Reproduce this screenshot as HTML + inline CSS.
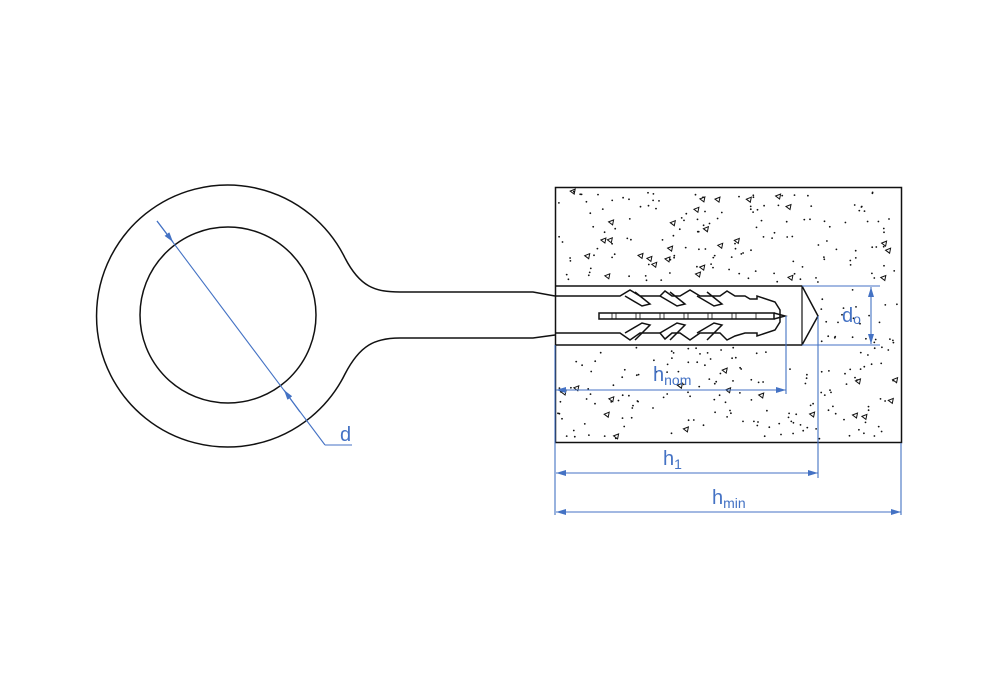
<!DOCTYPE html>
<html><head><meta charset="utf-8"><style>body{margin:0;background:#fff}svg{display:block}</style></head>
<body>
<svg id="s" width="1000" height="700" viewBox="0 0 1000 700" xmlns="http://www.w3.org/2000/svg" font-family="Liberation Sans, sans-serif">
<defs>
<marker id="a" viewBox="0 0 10 6" refX="10" refY="3" markerWidth="10" markerHeight="6" orient="auto-start-reverse" markerUnits="userSpaceOnUse"><path d="M0,0 L10,3 L0,6z" fill="#4472c4"/></marker>
</defs>
<g id="dots"></g>
<!-- concrete block -->
<rect x="557" y="287" width="245" height="58" fill="#fff"/>
<rect x="555.5" y="187.5" width="346" height="255" fill="none" stroke="#111" stroke-width="1.5"/>
<path d="M555,286 L802,286 L818,316 L802,345 L555,345" fill="none" stroke="#111" stroke-width="1.5"/>
<line x1="802" y1="286" x2="802" y2="345" stroke="#111" stroke-width="1.2"/>
<!-- ring -->
<path d="M345,258 A131,131 0 1 0 345,374 C360,345 375,338 400,338 L533,338 L555,335" fill="none" stroke="#111" stroke-width="1.5"/>
<path d="M345,258 C360,287 375,292 400,292 L533,292 L555,296" fill="none" stroke="#111" stroke-width="1.5"/>
<circle cx="228" cy="315" r="88" fill="none" stroke="#111" stroke-width="1.5"/>
<!-- plug -->
<g fill="none" stroke="#111" stroke-width="1.5">
<path d="M555,296 L620,296 L630,290 L640,296 L660,296 L665,291 L672,296 L680,296 L690,290 L700,296 L720,296 L727,291 L735,296 L745,296 L750,299 L757,299 L757,296 L775,302 L780,310 L780,322 L775,330 L757,336 L757,333 L745,333 L735,336 L727,340 L720,333 L700,333 L690,340 L680,333 L672,333 L665,339 L660,333 L640,333 L630,340 L620,333 L555,333"/>
<path d="M625,296 L642,306 L650,304 L635,292"/><path d="M660,296 L677,306 L685,304 L670,292"/><path d="M697,296 L714,306 L722,304 L707,292"/>
<path d="M625,333 L642,323 L650,325 L635,340"/><path d="M660,333 L677,323 L685,325 L670,340"/><path d="M697,333 L714,323 L722,325 L707,340"/>
<rect x="599" y="313" width="175" height="6"/>
<path d="M774,313 L785,316 L774,319"/>
</g>
<g stroke="#111" stroke-width="0.8">
<path d="M612,313v6M616,313v6M636,313v6M640,313v6M660,313v6M664,313v6M684,313v6M688,313v6M708,313v6M712,313v6M732,313v6M736,313v6M756,313v6"/>
</g>
<!-- dimensions -->
<g stroke="#4472c4" stroke-width="1.1" fill="none">
<line x1="157" y1="221" x2="325" y2="445"/><line x1="325" y1="445" x2="352" y2="445"/>
<line x1="157" y1="221" x2="173" y2="242" marker-end="url(#a)"/>
<line x1="300" y1="412" x2="284" y2="390" marker-end="url(#a)"/>
<line x1="555" y1="345" x2="555" y2="515"/>
<line x1="901" y1="443" x2="901" y2="515"/>
<line x1="786" y1="316" x2="786" y2="394"/>
<line x1="818" y1="316" x2="818" y2="478"/>
<line x1="556" y1="390" x2="786" y2="390" marker-start="url(#a)" marker-end="url(#a)"/>
<line x1="556" y1="473" x2="818" y2="473" marker-start="url(#a)" marker-end="url(#a)"/>
<line x1="556" y1="512" x2="901" y2="512" marker-start="url(#a)" marker-end="url(#a)"/>
<line x1="802" y1="286" x2="880" y2="286"/><line x1="802" y1="345" x2="880" y2="345"/>
<line x1="871" y1="287" x2="871" y2="344" marker-start="url(#a)" marker-end="url(#a)"/>
</g>
<g fill="#4472c4" font-size="20">
<text x="340" y="441">d</text>
<text x="653" y="381">h<tspan font-size="14" dy="4">nom</tspan></text>
<text x="663" y="465">h<tspan font-size="14" dy="4">1</tspan></text>
<text x="712" y="504">h<tspan font-size="14" dy="4">min</tspan></text>
<text x="842" y="322">d<tspan font-size="14" dy="2">o</tspan></text>
</g>
</svg>
<script>
(function(){var g=document.getElementById('dots'),s=12345,h='';function r(){s=(s*16807)%2147483647;return s/2147483647;}
function add(y0,y1,n){for(var i=0;i<n;i++){var x=558+r()*340,y=y0+r()*(y1-y0);if(r()<0.15){h+='<path d="M'+x.toFixed(1)+','+y.toFixed(1)+'l5,-2l-1,5z" fill="none" stroke="#111" stroke-width="1"/>';}else{h+='<circle cx="'+x.toFixed(1)+'" cy="'+y.toFixed(1)+'" r="0.9" fill="#111"/>';}}}
add(190,284,170);add(347,440,170);
for(var i=0;i<25;i++){var x=820+r()*78,y=288+r()*55;h+='<circle cx="'+x.toFixed(1)+'" cy="'+y.toFixed(1)+'" r="0.9" fill="#111"/>';}
g.innerHTML=h;})();
</script>
</body></html>
